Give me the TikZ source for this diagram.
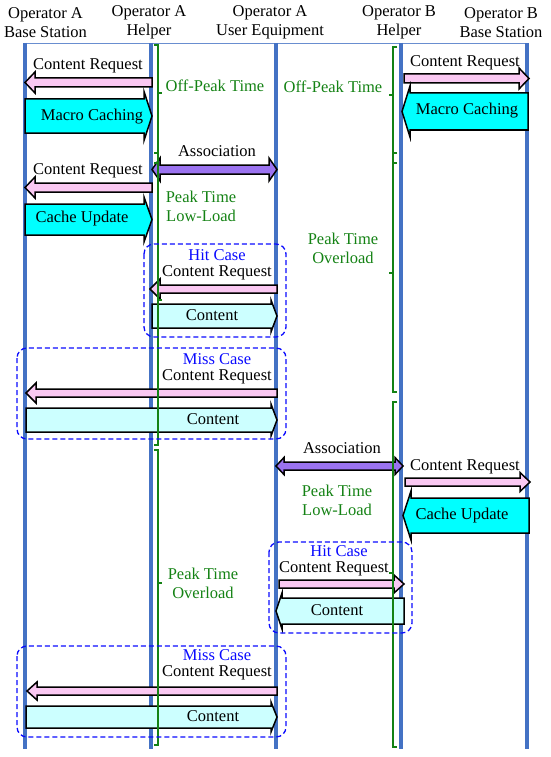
\documentclass[tikz,border=0pt]{standalone}
\usepackage{fontspec}
\setmainfont{Liberation Serif}
\definecolor{lifeblue}{RGB}{68,114,196}
\definecolor{pinkf}{RGB}{250,200,242}
\definecolor{cyanf}{RGB}{0,255,255}
\definecolor{lcyanf}{RGB}{204,255,255}
\definecolor{purp}{RGB}{155,115,240}
\definecolor{grn}{RGB}{20,130,20}
\definecolor{boxblue}{RGB}{10,10,255}
% right-pointing block arrow: fill, tail x, tip x, y, half shaft, half head, head length
\newcommand\RArr[7]{\path[blk,fill=#1] (#2,#4-#5) -- (#3-#7,#4-#5) -- (#3-#7,#4-#6) -- (#3,#4) -- (#3-#7,#4+#6) -- (#3-#7,#4+#5) -- (#2,#4+#5) -- cycle;}
% left-pointing block arrow: fill, tip x, tail x, y, half shaft, half head, head length
\newcommand\LArr[7]{\path[blk,fill=#1] (#3,#4-#5) -- (#2+#7,#4-#5) -- (#2+#7,#4-#6) -- (#2,#4) -- (#2+#7,#4+#6) -- (#2+#7,#4+#5) -- (#3,#4+#5) -- cycle;}
% double block arrow: fill, left tip, right tip, y, half shaft, half head, head length
\newcommand\DArr[7]{\path[blk,fill=#1] (#2,#4) -- (#2+#7,#4-#6) -- (#2+#7,#4-#5) -- (#3-#7,#4-#5) -- (#3-#7,#4-#6) -- (#3,#4) -- (#3-#7,#4+#6) -- (#3-#7,#4+#5) -- (#2+#7,#4+#5) -- (#2+#7,#4+#6) -- cycle;}
% brace opening to the left, tick to the right: x, top, bottom, mid
\newcommand\BrR[4]{\path[brk] (#1-4,#2) -- (#1,#2) -- (#1,#3) -- (#1-4,#3) (#1,#4) -- (#1+4,#4);}
% brace opening to the right, tick to the left
\newcommand\BrL[4]{\path[brk] (#1+4,#2) -- (#1,#2) -- (#1,#3) -- (#1+4,#3) (#1,#4) -- (#1-4,#4);}
\begin{document}
\begin{tikzpicture}[x=1pt,y=-1pt,
  life/.style={draw=lifeblue,line width=4pt},
  blk/.style={draw=black,line width=1.5pt,line join=miter},
  brk/.style={draw=grn,line width=1.2pt},
  dbox/.style={draw=boxblue,line width=1.3pt,rounded corners=10pt,dash pattern=on 5pt off 3pt},
  lbl/.style={inner sep=0pt,align=center,font=\fontsize{16.5}{19}\selectfont},
  gl/.style={lbl,text=grn},
  bl/.style={lbl,text=boxblue}]
\useasboundingbox (0,0) rectangle (550,757);

% headers
\node[lbl] (hA) at (45.5,22.5) {Operator A\\Base Station};
\node[lbl] (hH) at (149,22.5) {Operator A\\Helper};
\node[lbl] (hU) at (270,22.5) {Operator A\\User Equipment};
\node[lbl] (hHB) at (399,22.5) {Operator B\\Helper};
\node[lbl] (hB) at (501,22.5) {Operator B\\Base Station};

% lifelines
\coordinate (tA) at (25,43);  \coordinate (bA) at (25,749);
\coordinate (tH) at (151,43); \coordinate (bH) at (151,749);
\coordinate (tU) at (276,43); \coordinate (bU) at (276,749);
\coordinate (tHB) at (401,43); \coordinate (bHB) at (401,749);
\coordinate (tB) at (527,43); \coordinate (bB) at (527,749);
\draw[draw=lifeblue!80,line width=0.8pt] (tA) -- (tB);
\draw[life] (tA) -- (bA);
\draw[life] (tH) -- (bH);
\draw[life] (tU) -- (bU);
\draw[life] (tHB) -- (bHB);
\draw[life] (tB) -- (bB);

% ---- Off-peak
\LArr{pinkf}{25}{152}{82.5}{4.5}{10.5}{10}
\node[lbl] (cr1) at (88,66) {Content Request};
\RArr{cyanf}{25}{152}{116}{17}{24.5}{8}
\node[lbl] (mc1) at (92,117) {Macro Caching};

\RArr{pinkf}{404}{529}{78.5}{4.5}{10.5}{10}
\node[lbl] (cr2) at (465,63) {Content Request};
\LArr{cyanf}{402}{528}{111.5}{18.5}{25.5}{8}
\node[lbl] (mc2) at (467,111) {Macro Caching};

% ---- Peak A
\DArr{purp}{152}{277}{169.5}{4.5}{11.5}{8}
\node[lbl] (as1) at (217,151) {Association};
\LArr{pinkf}{25}{152}{187.5}{4.5}{10.5}{10}
\node[lbl] (cr3) at (88,171) {Content Request};
\RArr{cyanf}{25}{152}{219.5}{15.5}{22.5}{8}
\node[lbl] (cu1) at (82,219) {Cache Update};

% hit case 1
\LArr{pinkf}{150}{277}{289}{4}{10}{10}
\RArr{lcyanf}{152}{277}{316}{12}{16}{6}
\node[bl] (hit1) at (217,255) {Hit Case};
\node[lbl] (cr4) at (217,273) {Content Request};
\node[lbl] (ct1) at (212,315) {Content};

% miss case 1
\LArr{pinkf}{26}{277}{393}{4}{10}{10}
\RArr{lcyanf}{26}{277}{420}{12}{16}{6}
\node[bl] (miss1) at (217,359) {Miss Case};
\node[lbl] (cr5) at (217,377) {Content Request};
\node[lbl] (ct2) at (213,419) {Content};

% ---- Peak B
\DArr{purp}{276}{403}{466}{4}{8.5}{8}
\node[lbl] (as2) at (342,448) {Association};
\RArr{pinkf}{405}{530}{482}{4}{9.5}{10}
\node[lbl] (cr6) at (465,467) {Content Request};
\LArr{cyanf}{403}{529}{515.5}{17.5}{24.5}{8}
\node[lbl] (cu2) at (462,516) {Cache Update};

% hit case 2
\RArr{pinkf}{279}{404}{584}{4}{9}{10}
\LArr{lcyanf}{276}{404}{611}{13}{18}{6}
\node[bl] (hit2) at (339,551) {Hit Case};
\node[lbl] (cr7) at (334,569) {Content Request};
\node[lbl] (ct3) at (337,610) {Content};

% miss case 2
\LArr{pinkf}{27}{277}{691}{4}{9}{10}
\RArr{lcyanf}{26}{277}{717}{11}{15}{6}
\node[bl] (miss2) at (217,655) {Miss Case};
\node[lbl] (cr8) at (217,673) {Content Request};
\node[lbl] (ct4) at (213,716) {Content};

% green braces
\BrR{158}{45}{163}{93}
\BrR{158}{153}{445}{300}
\BrR{158}{450}{745}{583}
\BrL{393}{47}{163}{95}
\BrL{393}{153}{392}{273}
\BrL{393}{402}{747}{573}
\node[gl] (g1) at (215,86) {Off-Peak Time};
\node[gl] (g2) at (201,206) {Peak Time\\Low-Load};
\node[gl] (g3) at (203,583) {Peak Time\\Overload};
\node[gl] (g4) at (333,87) {Off-Peak Time};
\node[gl] (g5) at (343,248) {Peak Time\\Overload};
\node[gl] (g6) at (337,500) {Peak Time\\Low-Load};

% dashed boxes
\draw[dbox] (144,244) rectangle (286,337);
\draw[dbox] (17,348) rectangle (286,439);
\draw[dbox] (269,542) rectangle (412,633);
\draw[dbox] (17,646) rectangle (286,737);
\end{tikzpicture}
\end{document}
